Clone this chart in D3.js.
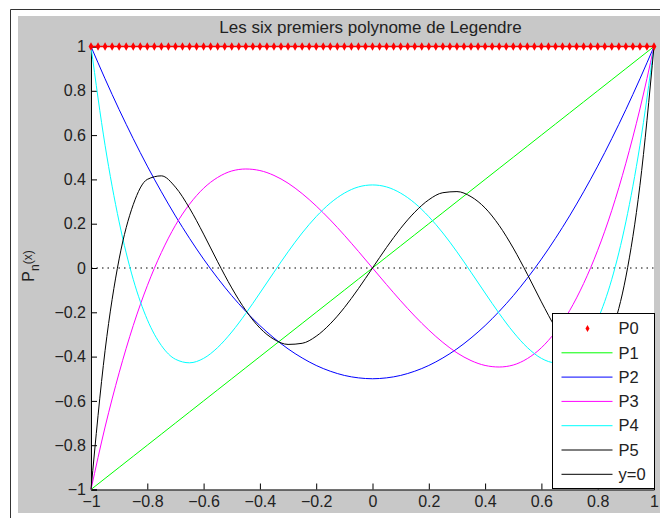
<!DOCTYPE html>
<html>
<head>
<meta charset="utf-8">
<script src="https://cdn.jsdelivr.net/npm/d3@7"></script>
<style>
  body { margin: 0; background: #fff; }
  text { font-family: "Liberation Sans", Arial, sans-serif; fill: #222; }
</style>
</head>
<body>
<div id="chart"></div>
<script>
// x sample positions
const xs = [-1, -0.95, -0.9, -0.85, -0.8, -0.75, -0.7, -0.65, -0.6, -0.55, -0.5,
  -0.45, -0.4, -0.35, -0.3, -0.25, -0.2, -0.15, -0.1, -0.05, 0,
  0.05, 0.1, 0.15, 0.2, 0.25, 0.3, 0.35, 0.4, 0.45, 0.5,
  0.55, 0.6, 0.65, 0.7, 0.75, 0.8, 0.85, 0.9, 0.95, 1];

// P0 markers along y = 1
const p0X = [-1, -0.975, -0.95, -0.925, -0.9, -0.875, -0.85, -0.825, -0.8, -0.775,
  -0.75, -0.725, -0.7, -0.675, -0.65, -0.625, -0.6, -0.575, -0.55, -0.525,
  -0.5, -0.475, -0.45, -0.425, -0.4, -0.375, -0.35, -0.325, -0.3, -0.275,
  -0.25, -0.225, -0.2, -0.175, -0.15, -0.125, -0.1, -0.075, -0.05, -0.025, 0,
  0.025, 0.05, 0.075, 0.1, 0.125, 0.15, 0.175, 0.2, 0.225, 0.25,
  0.275, 0.3, 0.325, 0.35, 0.375, 0.4, 0.425, 0.45, 0.475, 0.5,
  0.525, 0.55, 0.575, 0.6, 0.625, 0.65, 0.675, 0.7, 0.725, 0.75,
  0.775, 0.8, 0.825, 0.85, 0.875, 0.9, 0.925, 0.95, 0.975, 1];
const p0Y = 1;

const p1 = [-1, -0.95, -0.9, -0.85, -0.8, -0.75, -0.7, -0.65, -0.6, -0.55, -0.5,
  -0.45, -0.4, -0.35, -0.3, -0.25, -0.2, -0.15, -0.1, -0.05, 0,
  0.05, 0.1, 0.15, 0.2, 0.25, 0.3, 0.35, 0.4, 0.45, 0.5,
  0.55, 0.6, 0.65, 0.7, 0.75, 0.8, 0.85, 0.9, 0.95, 1];

const p2 = [1, 0.854, 0.715, 0.584, 0.46, 0.344, 0.235, 0.134, 0.04, -0.046, -0.125,
  -0.196, -0.26, -0.316, -0.365, -0.406, -0.44, -0.466, -0.485, -0.496, -0.5,
  -0.496, -0.485, -0.466, -0.44, -0.406, -0.365, -0.316, -0.26, -0.196, -0.125,
  -0.046, 0.04, 0.134, 0.235, 0.344, 0.46, 0.584, 0.715, 0.854, 1];

const p3 = [-1, -0.718, -0.473, -0.26, -0.08, 0.07, 0.193, 0.288, 0.36, 0.409, 0.438,
  0.447, 0.44, 0.418, 0.383, 0.336, 0.28, 0.217, 0.148, 0.075, 0,
  -0.075, -0.148, -0.217, -0.28, -0.336, -0.383, -0.418, -0.44, -0.447, -0.438,
  -0.409, -0.36, -0.288, -0.193, -0.07, 0.08, 0.26, 0.473, 0.718, 1];

const p4 = [1, 0.554, 0.208, -0.051, -0.233, -0.35, -0.412, -0.428, -0.408, -0.359, -0.289,
  -0.205, -0.113, -0.019, 0.073, 0.158, 0.232, 0.293, 0.338, 0.366, 0.375,
  0.366, 0.338, 0.293, 0.232, 0.158, 0.073, -0.019, -0.113, -0.205, -0.289,
  -0.359, -0.408, -0.428, -0.412, -0.35, -0.233, -0.051, 0.208, 0.554, 1];

const p5 = [-1, -0.373, 0.041, 0.286, 0.4, 0.416, 0.365, 0.27, 0.153, 0.028, -0.09,
  -0.192, -0.271, -0.322, -0.345, -0.34, -0.308, -0.252, -0.179, -0.093, 0,
  0.093, 0.179, 0.252, 0.308, 0.34, 0.345, 0.322, 0.271, 0.192, 0.09,
  -0.028, -0.153, -0.27, -0.365, -0.416, -0.4, -0.286, -0.041, 0.373, 1];

const xTicks = [-1, -0.8, -0.6, -0.4, -0.2, 0, 0.2, 0.4, 0.6, 0.8, 1];
const yTicks = [-1, -0.8, -0.6, -0.4, -0.2, 0, 0.2, 0.4, 0.6, 0.8, 1];

const seriesNames = ['P1', 'P2', 'P3', 'P4', 'P5'];
const seriesValues = [p1, p2, p3, p4, p5];
const seriesColors = ['#00ff00', '#0000ff', '#ff00ff', '#00ffff', '#000000'];
const legendNames = ['P0', 'P1', 'P2', 'P3', 'P4', 'P5', 'y=0'];

const width = 660;
const height = 518;
const margin = {top: 46.5, right: 6, bottom: 28.5, left: 91};
const plotWidth = width - margin.left - margin.right;
const plotHeight = height - margin.top - margin.bottom;

const svg = d3.select('#chart')
    .append('svg')
    .attr('width', width)
    .attr('height', height);

// window frame and grey figure background
svg.append('rect').attr('x', 18).attr('y', 16).attr('width', width - 18).attr('height', 497)
    .attr('fill', '#c8c8c8');
svg.append('path').attr('d', 'M10.5,' + height + 'V9.5H' + width)
    .attr('fill', 'none').attr('stroke', '#333').attr('stroke-width', 1);

const g = svg.append('g')
    .attr('transform', 'translate(' + margin.left + ',' + margin.top + ')');

const x = d3.scaleLinear().domain([-1, 1]).range([0, plotWidth]);
const y = d3.scaleLinear().domain([-1, 1]).range([plotHeight, 0]);

// white plot area
g.append('rect').attr('width', plotWidth).attr('height', plotHeight).attr('fill', '#fff');

// axes with inward ticks
const xAxis = g.append('g')
    .attr('transform', 'translate(0,' + plotHeight + ')')
    .call(d3.axisBottom(x).tickValues(xTicks).tickSize(-6).tickPadding(12).tickFormat(d3.format('')));
const yAxis = g.append('g')
    .call(d3.axisLeft(y).tickValues(yTicks).tickSize(-6).tickPadding(5).tickFormat(d3.format('')));
[xAxis, yAxis].forEach(a => {
    a.select('.domain').attr('stroke', '#000');
    a.selectAll('.tick line').attr('stroke', '#000');
    a.selectAll('text').attr('font-size', '16px')
        .attr('font-family', '"Liberation Sans", Arial, sans-serif').attr('fill', '#222');
});
xAxis.selectAll('.tick text').attr('dy', '0.35em');

// dotted zero line
g.append('line')
    .attr('x1', x(-1)).attr('x2', x(1))
    .attr('y1', y(0)).attr('y2', y(0))
    .attr('stroke', '#000').attr('stroke-width', 1)
    .attr('stroke-dasharray', '1.5,4');

// polynomial curves
const line = d3.line()
    .curve(d3.curveMonotoneX)
    .x((d, i) => x(xs[i]))
    .y(d => y(d));
seriesValues.forEach((vals, k) => {
    g.append('path')
        .datum(vals)
        .attr('fill', 'none')
        .attr('stroke', seriesColors[k])
        .attr('stroke-width', 1)
        .attr('d', line);
});

// P0 red markers
g.append('line')
    .attr('x1', x(p0X[0])).attr('x2', x(p0X[p0X.length - 1]))
    .attr('y1', y(p0Y)).attr('y2', y(p0Y))
    .attr('stroke', '#ff0000').attr('stroke-width', 1.5);
g.selectAll('.p0')
    .data(p0X)
    .enter().append('path')
    .attr('class', 'p0')
    .attr('transform', d => 'translate(' + x(d) + ',' + y(p0Y) + ')')
    .attr('d', d3.symbol().type(d3.symbolDiamond).size(20))
    .attr('fill', '#ff0000');

// title
svg.append('text')
    .attr('x', margin.left + plotWidth / 2 - 2)
    .attr('y', 33)
    .attr('text-anchor', 'middle')
    .attr('font-size', '17px')
    .text('Les six premiers polynome de Legendre');

// y label P_n(x)
const yLab = svg.append('text')
    .attr('transform', 'translate(34,266) rotate(-90)')
    .attr('text-anchor', 'middle')
    .attr('font-size', '16px');
yLab.append('tspan').text('P');
yLab.append('tspan').attr('font-size', '12px').attr('dy', 5).text('n');
yLab.append('tspan').attr('font-size', '12px').attr('dy', -7).text('(x)');

// legend
const lg = svg.append('g').attr('transform', 'translate(552.5,313.5)');
lg.append('rect').attr('width', 102).attr('height', 175)
    .attr('fill', '#fff').attr('stroke', '#000').attr('stroke-width', 1);
legendNames.forEach((name, i) => {
    const ry = 15 + i * 24.3;
    if (i === 0) {
        lg.append('path')
            .attr('transform', 'translate(35,' + ry + ')')
            .attr('d', d3.symbol().type(d3.symbolDiamond).size(14))
            .attr('fill', '#ff0000');
    } else {
        lg.append('line')
            .attr('x1', 9).attr('x2', 60).attr('y1', ry).attr('y2', ry)
            .attr('stroke', i <= 5 ? seriesColors[i - 1] : '#000')
            .attr('stroke-width', 1);
    }
    lg.append('text')
        .attr('x', 66).attr('y', ry)
        .attr('dy', '0.35em')
        .attr('font-size', '16.5px')
        .text(name);
});
</script>
</body>
</html>
